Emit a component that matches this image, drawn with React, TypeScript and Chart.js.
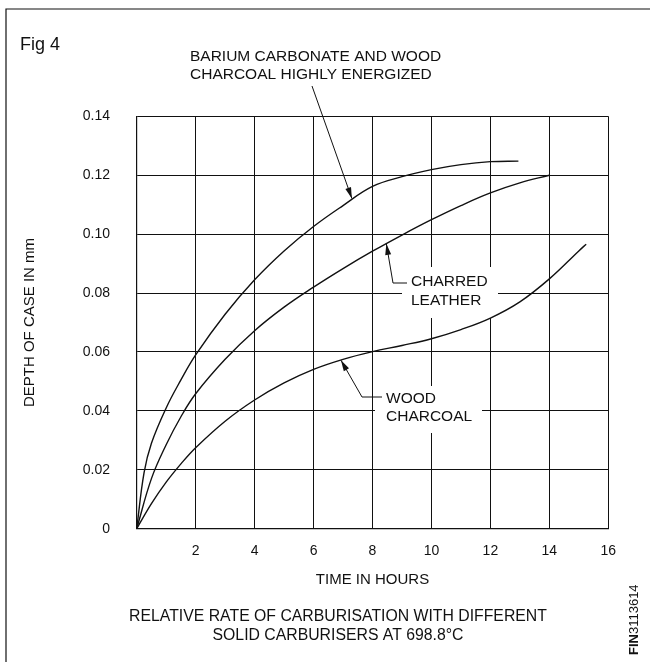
import React, { useEffect, useRef } from 'react';
import { Chart, registerables } from 'chart.js';

Chart.register(...registerables);

// ---- Data ----
const hoursBarium = [0, 0.25, 0.5, 1, 1.5, 2, 3, 4, 5, 6, 7, 8, 9, 10, 11, 12, 12.95];
const depthBarium = [0, 0.019, 0.029, 0.041, 0.0505, 0.059, 0.0728, 0.0845, 0.0943, 0.1026, 0.1097, 0.1162, 0.1195, 0.1219, 0.1236, 0.1246, 0.1248];

const hoursLeather = [0, 0.5, 1, 1.5, 2, 3, 4, 5, 6, 7, 8, 9, 10, 11, 12, 13, 14];
const depthLeather = [0, 0.017, 0.0285, 0.038, 0.0458, 0.0575, 0.0672, 0.0752, 0.082, 0.0883, 0.0942, 0.0997, 0.1049, 0.1097, 0.114, 0.1174, 0.12];

const hoursCharcoal = [0, 0.5, 1, 1.5, 2, 3, 4, 5, 6, 7, 8, 9, 10, 11, 12, 13, 14, 15, 15.25];
const depthCharcoal = [0, 0.0085, 0.0158, 0.022, 0.0275, 0.0365, 0.0437, 0.0495, 0.0541, 0.0575, 0.0601, 0.0622, 0.0645, 0.0676, 0.0715, 0.077, 0.0848, 0.0943, 0.0966];

const yTickValues = [0, 0.02, 0.04, 0.06, 0.08, 0.1, 0.12, 0.14];
const xTickValues = [0, 2, 4, 6, 8, 10, 12, 14, 16];

const labelBarium = ['BARIUM CARBONATE AND WOOD', 'CHARCOAL HIGHLY ENERGIZED'];
const labelLeather = ['CHARRED', 'LEATHER'];
const labelCharcoal = ['WOOD', 'CHARCOAL'];
const figLabel = 'Fig 4';
const xTitle = 'TIME IN HOURS';
const yTitle = 'DEPTH OF CASE IN mm';
const caption = ['RELATIVE RATE OF CARBURISATION WITH DIFFERENT', 'SOLID CARBURISERS AT 698.8°C'];
const refCode = ['FIN', '3113614'];

// arrow tips in data coordinates
const tipBarium = { x: 7.3, y: 0.1121 };
const tipLeather = { x: 8.47, y: 0.0967 };
const tipCharcoal = { x: 6.93, y: 0.0572 };

const FONT = '"Liberation Sans", Arial, Helvetica, sans-serif';
const INK = '#111';

const toPoints = (xs: number[], ys: number[]) => xs.map((x, i) => ({ x, y: ys[i] }));

function drawArrow(ctx: CanvasRenderingContext2D, pts: [number, number][]) {
  // pts[0] is the tip
  ctx.beginPath();
  ctx.moveTo(pts[0][0], pts[0][1]);
  for (let i = 1; i < pts.length; i++) ctx.lineTo(pts[i][0], pts[i][1]);
  ctx.stroke();
  const [tx, ty] = pts[0];
  const [nx, ny] = pts[1];
  const ang = Math.atan2(ny - ty, nx - tx);
  const len = 11;
  const w = 3;
  const bx = tx + Math.cos(ang) * len;
  const by = ty + Math.sin(ang) * len;
  ctx.beginPath();
  ctx.moveTo(tx, ty);
  ctx.lineTo(bx - Math.sin(ang) * w, by + Math.cos(ang) * w);
  ctx.lineTo(bx + Math.sin(ang) * w, by - Math.cos(ang) * w);
  ctx.closePath();
  ctx.fill();
}

const annotPlugin = {
  id: 'annot',
  beforeDraw(chart: any) {
    const ctx = chart.ctx;
    ctx.save();
    ctx.fillStyle = '#fff';
    ctx.fillRect(0, 0, chart.width, chart.height);
    ctx.restore();
  },
  beforeDatasetsDraw(chart: any) {
    const ctx = chart.ctx;
    ctx.save();
    ctx.fillStyle = '#fff';
    // white backgrounds behind in-plot labels
    ctx.fillRect(402, 267, 96, 51);
    ctx.fillRect(375, 386, 107, 47);
    ctx.restore();
  },
  afterDatasetsDraw(chart: any) {
    const ctx = chart.ctx;
    const xs = chart.scales.x;
    const ys = chart.scales.y;
    ctx.save();
    ctx.strokeStyle = INK;
    ctx.fillStyle = INK;

    // outer frame
    ctx.lineWidth = 1.2;
    ctx.beginPath();
    ctx.moveTo(6, 662);
    ctx.lineTo(6, 9);
    ctx.lineTo(650, 9);
    ctx.stroke();
    ctx.lineWidth = 1;

    // Fig label
    ctx.font = `18px ${FONT}`;
    ctx.textAlign = 'left';
    ctx.textBaseline = 'middle';
    ctx.fillText(figLabel, 20, 45);

    // top label
    ctx.font = `15.5px ${FONT}`;
    ctx.fillText(labelBarium[0], 190, 57);
    ctx.fillText(labelBarium[1], 190, 75);
    drawArrow(ctx, [
      [xs.getPixelForValue(tipBarium.x), ys.getPixelForValue(tipBarium.y)],
      [312, 86],
    ]);

    // charred leather
    ctx.fillText(labelLeather[0], 411, 282);
    ctx.fillText(labelLeather[1], 411, 301);
    drawArrow(ctx, [
      [xs.getPixelForValue(tipLeather.x), ys.getPixelForValue(tipLeather.y)],
      [393, 283],
      [407, 283],
    ]);

    // wood charcoal
    ctx.fillText(labelCharcoal[0], 386, 399);
    ctx.fillText(labelCharcoal[1], 386, 417);
    drawArrow(ctx, [
      [xs.getPixelForValue(tipCharcoal.x), ys.getPixelForValue(tipCharcoal.y)],
      [362, 397],
      [382, 397],
    ]);

    // caption
    ctx.textAlign = 'center';
    ctx.font = `15.8px ${FONT}`;
    ctx.fillText(caption[0], 338, 617);
    ctx.fillText(caption[1], 338, 636);

    // reference code, rotated
    ctx.translate(634, 655);
    ctx.rotate(-Math.PI / 2);
    ctx.textAlign = 'left';
    ctx.font = `bold 13px ${FONT}`;
    ctx.fillText(refCode[0], 0, 0);
    const w = ctx.measureText(refCode[0]).width;
    ctx.font = `13px ${FONT}`;
    ctx.fillText(refCode[1], w, 0);
    ctx.restore();
  },
};

export default function App() {
  const ref = useRef<HTMLCanvasElement | null>(null);
  useEffect(() => {
    if (!ref.current) return;
    const lineStyle = {
      borderColor: INK,
      borderWidth: 1.4,
      pointRadius: 0,
      fill: false,
      tension: 0.4,
    };
    const chart = new Chart(ref.current, {
      type: 'line',
      data: {
        datasets: [
          { label: 'Barium carbonate and wood charcoal', data: toPoints(hoursBarium, depthBarium), ...lineStyle },
          { label: 'Charred leather', data: toPoints(hoursLeather, depthLeather), ...lineStyle },
          { label: 'Wood charcoal', data: toPoints(hoursCharcoal, depthCharcoal), ...lineStyle },
        ],
      },
      options: {
        animation: false,
        responsive: false,
        devicePixelRatio: 1,
        layout: { padding: { top: 116.3, left: 0, right: 41.7, bottom: 0 } },
        plugins: { legend: { display: false }, tooltip: { enabled: false } },
        scales: {
          x: {
            type: 'linear',
            min: 0,
            max: 16,
            afterFit: (s: any) => { s.height = 662 - 528.7; },
            afterBuildTicks: (s: any) => { s.ticks = xTickValues.map((v) => ({ value: v })); },
            ticks: {
              stepSize: 2,
              padding: 14,
              color: INK,
              font: { family: FONT, size: 14 },
              callback: (v: any) => (Number(v) === 0 ? '' : String(v)),
              maxRotation: 0,
            },
            grid: { color: INK, lineWidth: 1, drawTicks: false },
            border: { display: true, color: INK, width: 1.2 },
            title: {
              display: true,
              text: xTitle,
              color: INK,
              font: { family: FONT, size: 15 },
              padding: { top: 0, bottom: 73 },
            },
          },
          y: {
            type: 'linear',
            min: 0,
            max: 0.14,
            afterFit: (s: any) => { s.width = 136.7; },
            afterBuildTicks: (s: any) => { s.ticks = yTickValues.map((v) => ({ value: v })); },
            ticks: {
              stepSize: 0.02,
              padding: 26.7,
              color: INK,
              font: { family: FONT, size: 14 },
              callback: (v: any) => (Number(v) === 0 ? '0' : Number(v).toFixed(2)),
            },
            grid: { color: INK, lineWidth: 1, drawTicks: false },
            border: { display: true, color: INK, width: 1.2 },
            title: {
              display: true,
              text: yTitle,
              color: INK,
              font: { family: FONT, size: 15 },
              padding: { top: 21, bottom: 0 },
            },
          },
        },
      },
      plugins: [annotPlugin],
    });
    return () => chart.destroy();
  }, []);
  return (
    <div style={{ position: 'fixed', left: 0, top: 0, width: 650, height: 662, background: '#fff' }}>
      <canvas ref={ref} width={650} height={662} style={{ width: 650, height: 662, display: 'block' }} />
    </div>
  );
}
